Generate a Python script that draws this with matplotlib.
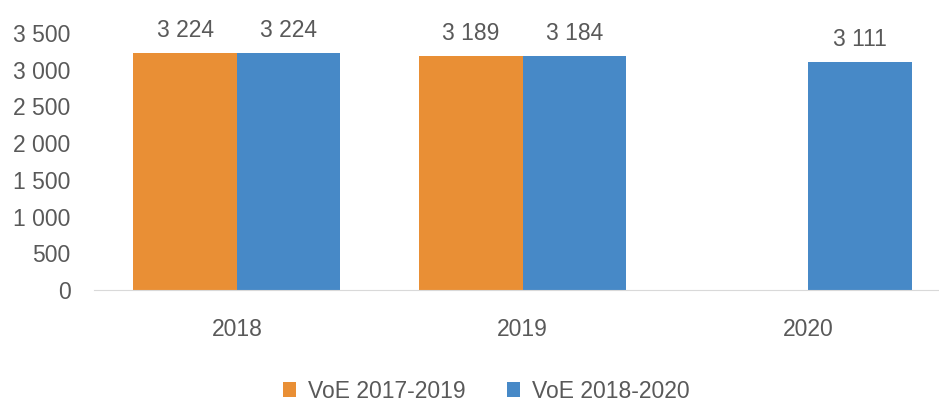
import matplotlib.pyplot as plt
import numpy as np

plt.rcParams['font.family'] = ['Liberation Sans', 'DejaVu Sans']

years = ['2018', '2019', '2020']
voe_2017_2019 = [3224, 3189, np.nan]
voe_2018_2020 = [3224, 3184, 3111]
labels_a = ['3 224', '3 189', '']
labels_b = ['3 224', '3 184', '3 111']

orange = '#E98F35'
blue = '#4789C7'
grey = '#595959'
fs = 16.5

fig = plt.figure(figsize=(9.39, 4.03), dpi=100)
ax = fig.add_axes([94 / 939, 113 / 403, 857 / 939, 257 / 403])

x = np.arange(len(years))
w = 0.362
ax.bar(x - w / 2, voe_2017_2019, w, color=orange, label='VoE 2017-2019')
ax.bar(x + w / 2, voe_2018_2020, w, color=blue, label='VoE 2018-2020')

for i in range(len(years)):
    if labels_a[i]:
        ax.text(x[i] - w / 2, voe_2017_2019[i] + 150, labels_a[i], ha='center', va='bottom',
                fontsize=fs, color=grey, clip_on=False)
    ax.text(x[i] + w / 2, voe_2018_2020[i] + 150, labels_b[i], ha='center', va='bottom',
            fontsize=fs, color=grey, clip_on=False)

ax.set_xlim(-0.5, 2.5)
ax.set_ylim(0, 3500)
ax.set_yticks(range(0, 3501, 500))
ax.set_yticklabels([f'{v:,}'.replace(',', ' ') for v in range(0, 3501, 500)])
ax.set_xticks(x)
ax.set_xticklabels(years)
ax.tick_params(axis='both', length=0, labelsize=fs, colors=grey)
ax.tick_params(axis='y', pad=17)
ax.tick_params(axis='x', pad=20)
for s in ['top', 'right', 'left']:
    ax.spines[s].set_visible(False)
ax.spines['bottom'].set_color('#D9D9D9')

fig.legend(loc='center', bbox_to_anchor=(486 / 939, 1 - 391 / 403), ncol=2, frameon=False,
           fontsize=fs, labelcolor=grey, handlelength=0.6, handleheight=0.6,
           handletextpad=0.5, columnspacing=1.8)

fig.savefig('out.png', dpi=100)
